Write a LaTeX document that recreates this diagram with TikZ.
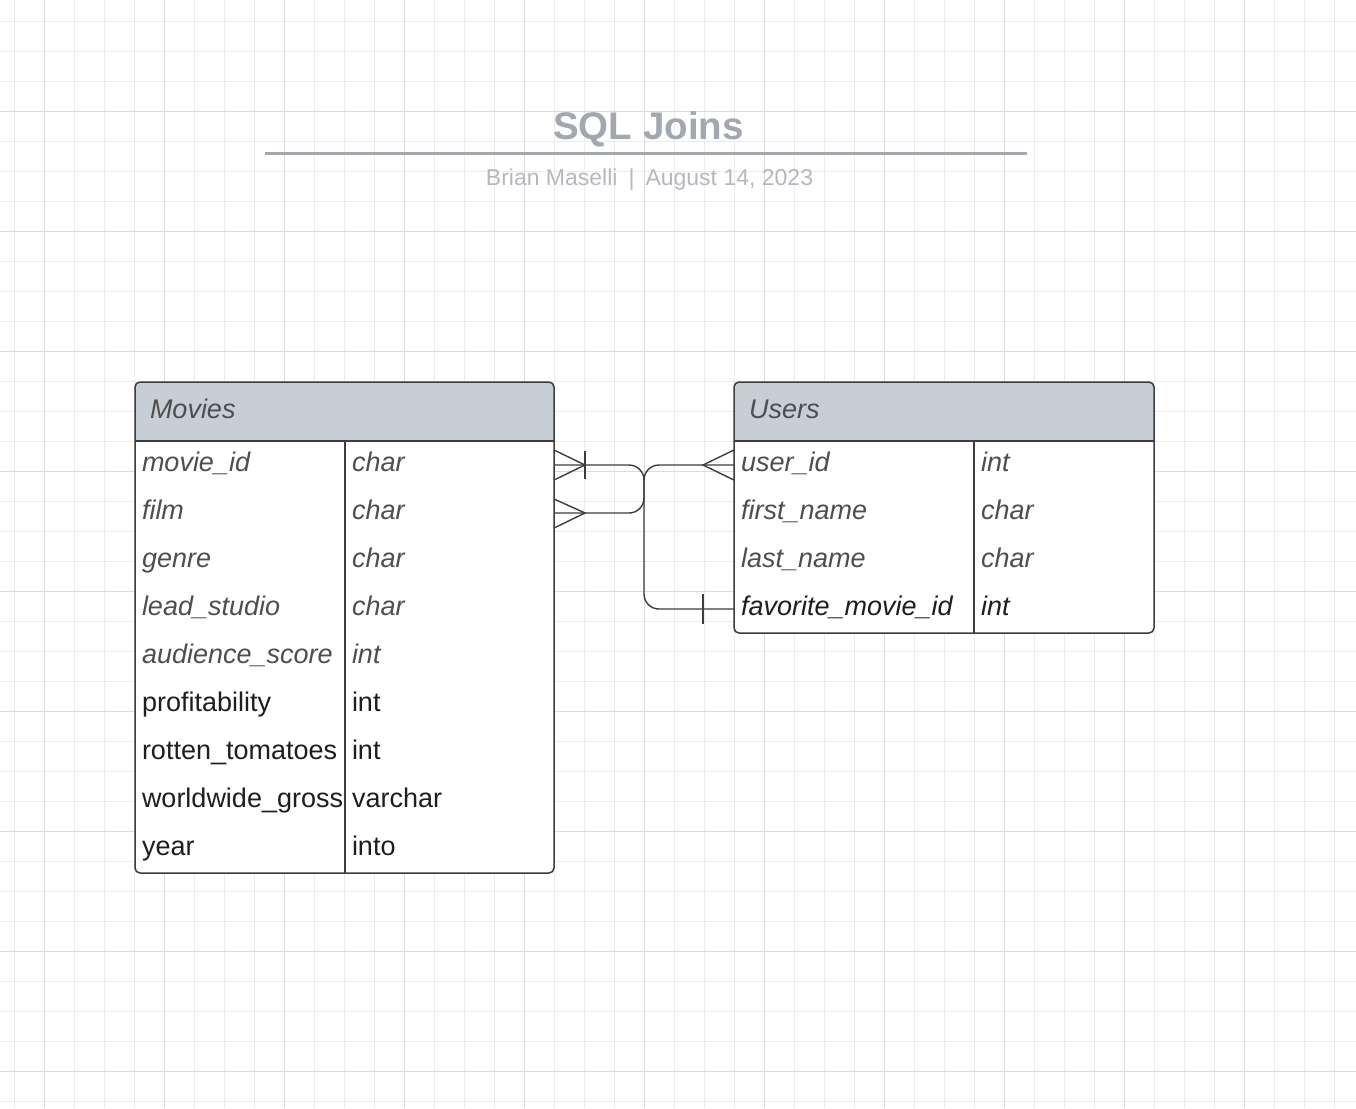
\documentclass[tikz,border=0pt]{standalone}
\usepackage{fontspec}
\setmainfont{Liberation Sans}
\usepackage{tikz}
\usetikzlibrary{positioning, calc, backgrounds}

\definecolor{gridminor}{RGB}{236,236,236}
\definecolor{gridmajor}{RGB}{218,218,218}
\definecolor{headfill}{RGB}{200,206,214}
\definecolor{border}{RGB}{58,61,66}
\definecolor{titlegray}{RGB}{163,167,176}
\definecolor{subgray}{RGB}{181,184,191}
\definecolor{fieldgray}{RGB}{78,78,80}
\definecolor{fielddark}{RGB}{30,30,32}

\newcommand{\rowfont}{\fontsize{27}{32}\selectfont}

\begin{document}
\begin{tikzpicture}[
    x=1pt, y=-1pt,
    tablehead/.style={inner xsep=15pt, inner ysep=0pt, outer sep=0pt, text width=390pt, minimum height=59pt, text height=19.5pt, text depth=6.5pt, align=left, font=\rowfont\itshape, text=fieldgray},
    fieldcell/.style={inner xsep=7pt, inner ysep=0pt, outer sep=0pt, text width=#1, minimum height=48pt, text height=19.5pt, text depth=6.5pt, align=left},
    fielditalic/.style={font=\rowfont\itshape, text=fieldgray},
    fieldupright/.style={font=\rowfont, text=fielddark},
    fieldkey/.style={font=\rowfont\itshape, text=fielddark},
    tableline/.style={draw=border, line width=1.5pt},
    relation/.style={draw=border, line width=1.4pt},
    titletext/.style={anchor=base, font=\fontsize{38.5}{44}\selectfont\bfseries, text=titlegray},
    subtext/.style={anchor=base, font=\fontsize{23}{28}\selectfont, text=subgray}
]
\useasboundingbox (0,0) rectangle (1356,1108);

% title block
\node[titletext] (title) at (648.5,139) {SQL Joins};
\draw[titlegray, line width=3pt] (265,153) -- (1027,153);
\node[subtext] (byline) at (649.5,185) {Brian Maselli\hspace{11pt}|\hspace{11pt}August 14, 2023};

% Movies table
\node[tablehead, anchor=north west] (mhead) at (135,382) {Movies};
\node[fieldcell=196pt, fielditalic, below right=0pt and 0pt of mhead.south west] (mk1) {movie\_id};
\node[fieldcell=195pt, fielditalic, right=0pt of mk1] (mt1) {char};
\node[fieldcell=196pt, fielditalic, below=0pt of mk1] (mk2) {film};
\node[fieldcell=195pt, fielditalic, right=0pt of mk2] (mt2) {char};
\node[fieldcell=196pt, fielditalic, below=0pt of mk2] (mk3) {genre};
\node[fieldcell=195pt, fielditalic, right=0pt of mk3] (mt3) {char};
\node[fieldcell=196pt, fielditalic, below=0pt of mk3] (mk4) {lead\_studio};
\node[fieldcell=195pt, fielditalic, right=0pt of mk4] (mt4) {char};
\node[fieldcell=196pt, fielditalic, below=0pt of mk4] (mk5) {audience\_score};
\node[fieldcell=195pt, fielditalic, right=0pt of mk5] (mt5) {int};
\node[fieldcell=196pt, fieldupright, below=0pt of mk5] (mk6) {profitability};
\node[fieldcell=195pt, fieldupright, right=0pt of mk6] (mt6) {int};
\node[fieldcell=196pt, fieldupright, below=0pt of mk6] (mk7) {rotten\_tomatoes};
\node[fieldcell=195pt, fieldupright, right=0pt of mk7] (mt7) {int};
\node[fieldcell=196pt, fieldupright, below=0pt of mk7] (mk8) {worldwide\_gross};
\node[fieldcell=195pt, fieldupright, right=0pt of mk8] (mt8) {varchar};
\node[fieldcell=196pt, fieldupright, below=0pt of mk8] (mk9) {year};
\node[fieldcell=195pt, fieldupright, right=0pt of mk9] (mt9) {into};

% Users table
\node[tablehead, anchor=north west] (uhead) at (734,382) {Users};
\node[fieldcell=226pt, fielditalic, below right=0pt and 0pt of uhead.south west] (uk1) {user\_id};
\node[fieldcell=166pt, fielditalic, right=0pt of uk1] (ut1) {int};
\node[fieldcell=226pt, fielditalic, below=0pt of uk1] (uk2) {first\_name};
\node[fieldcell=166pt, fielditalic, right=0pt of uk2] (ut2) {char};
\node[fieldcell=226pt, fielditalic, below=0pt of uk2] (uk3) {last\_name};
\node[fieldcell=166pt, fielditalic, right=0pt of uk3] (ut3) {char};
\node[fieldcell=226pt, fieldkey, below=0pt of uk3] (uk4) {favorite\_movie\_id};
\node[fieldcell=166pt, fieldkey, right=0pt of uk4] (ut4) {int};

% grid and table fills
\begin{scope}[on background layer]
  \fill[white] (0,0) rectangle (1356,1108);
  \foreach \x in {14.5,44.5,...,1355} \draw[gridminor, line width=1pt] (\x,0) -- (\x,1108);
  \foreach \y in {21.5,51.5,...,1107} \draw[gridminor, line width=1pt] (0,\y) -- (1356,\y);
  \foreach \x in {44.5,164.5,...,1355} \draw[gridmajor, line width=1pt] (\x,0) -- (\x,1108);
  \foreach \y in {111.5,231.5,...,1107} \draw[gridmajor, line width=1pt] (0,\y) -- (1356,\y);
  \begin{scope}
    \clip[rounded corners=5pt] (mhead.north west) rectangle (mt9.south east);
    \fill[white] (mhead.north west) rectangle (mt9.south east);
    \fill[headfill] (mhead.north west) rectangle (mhead.south east);
  \end{scope}
  \begin{scope}
    \clip[rounded corners=5pt] (uhead.north west) rectangle (ut4.south east);
    \fill[white] (uhead.north west) rectangle (ut4.south east);
    \fill[headfill] (uhead.north west) rectangle (uhead.south east);
  \end{scope}
\end{scope}

% table frames
\draw[tableline, rounded corners=5pt] (mhead.north west) rectangle (mt9.south east);
\draw[tableline] (mhead.south west) -- (mhead.south east);
\draw[tableline] (mk1.north east) -- (mk9.south east);
\draw[tableline, rounded corners=5pt] (uhead.north west) rectangle (ut4.south east);
\draw[tableline] (uhead.south west) -- (uhead.south east);
\draw[tableline] (uk1.north east) -- (uk4.south east);

% relations
\draw[relation, rounded corners=15pt] (mt1.east) -- ++(90,0) |- (mt2.east);
\draw[relation, rounded corners=15pt] (uk1.west) -- ++(-90,0) |- (uk4.west);
\draw[relation] ($(mt1.east)+(0,-15)$) -- ($(mt1.east)+(31,0)$) -- ($(mt1.east)+(0,15)$);
\draw[relation] ($(mt1.east)+(31,-14)$) -- ($(mt1.east)+(31,14)$);
\draw[relation] ($(mt2.east)+(0,-14)$) -- ($(mt2.east)+(31,0)$) -- ($(mt2.east)+(0,15)$);
\draw[relation] ($(uk1.west)+(0,-15)$) -- ($(uk1.west)+(-31,0)$) -- ($(uk1.west)+(0,15)$);
\draw[relation] ($(uk4.west)+(-31,-15)$) -- ($(uk4.west)+(-31,15)$);

\end{tikzpicture}
\end{document}
